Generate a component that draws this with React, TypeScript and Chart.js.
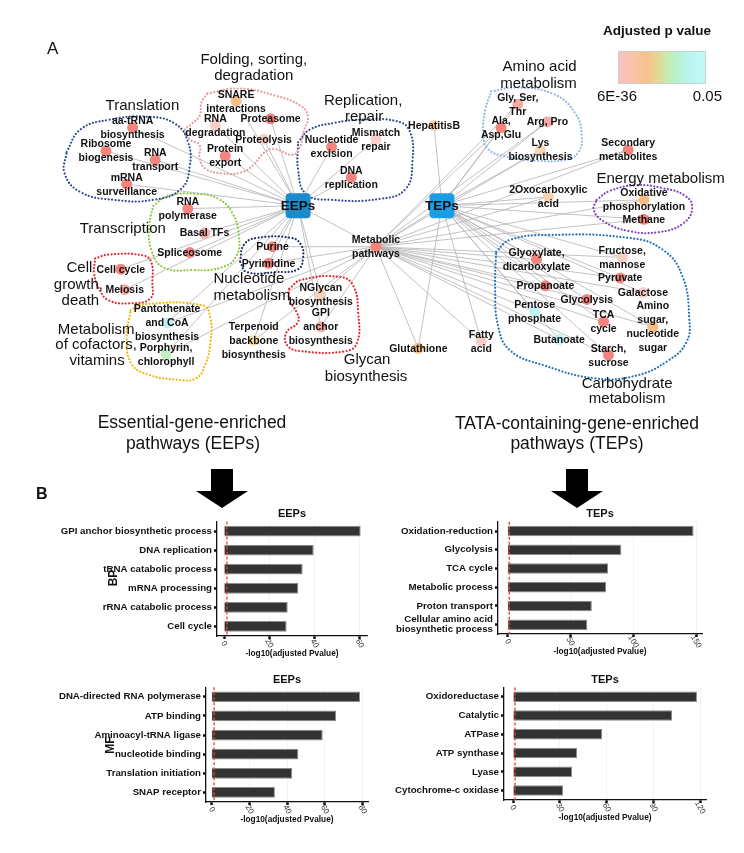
import React, { useEffect, useRef } from "react";
import { Chart, registerables } from "chart.js";

Chart.register(...registerables);

const FONT = '"Liberation Sans", Arial, Helvetica, sans-serif';

// ================= Panel A: network data =================
const nodeIds = [
  "EEPs", "TEPs", "metabolic",
  "aaTRNA", "ribosome", "rnaTransport", "mrnaSurv",
  "snare", "proteasome", "rnaDeg", "proteolysis", "proteinExport",
  "nucExcision", "mismatch", "dnaRep",
  "rnaPol", "basalTF", "spliceosome",
  "cellCycle", "meiosis",
  "purine", "pyrimidine",
  "pantothenate", "porphyrin", "terpenoid",
  "nglycan", "gpi",
  "hepatitisB", "glySerThr", "alaAspGlu", "argPro", "lys",
  "secondary", "oxo", "oxphos", "methane",
  "glyoxylate", "fructose", "pyruvate", "propanoate", "galactose", "glycolysis",
  "pentose", "aminoSugar", "tca", "butanoate", "starch",
  "fatty", "glutathione",
];
const nodeLabels = [
  "EEPs", "TEPs", "Metabolic\npathways",
  "aa-tRNA\nbiosynthesis", "Ribosome\nbiogenesis", "RNA\ntransport", "mRNA\nsurveillance",
  "SNARE\ninteractions", "Proteasome", "RNA\ndegradation", "Proteolysis", "Protein\nexport",
  "Nucleotide\nexcision", "Mismatch\nrepair", "DNA\nreplication",
  "RNA\npolymerase", "Basal TFs", "Spliceosome",
  "Cell cycle", "Meiosis",
  "Purine", "Pyrimidine",
  "Pantothenate\nand CoA\nbiosynthesis", "Porphyrin,\nchlorophyll", "Terpenoid\nbackbone\nbiosynthesis",
  "NGlycan\nbiosynthesis", "GPI\nanchor\nbiosynthesis",
  "HepatitisB", "Gly, Ser,\nThr", "Ala,\nAsp,Glu", "Arg, Pro", "Lys\nbiosynthesis",
  "Secondary\nmetabolites", "2Oxocarboxylic\nacid", "Oxidative\nphosphorylation", "Methane",
  "Glyoxylate,\ndicarboxylate", "Fructose,\nmannose", "Pyruvate", "Propanoate", "Galactose", "Glycolysis",
  "Pentose\nphosphate", "Amino\nsugar,\nnucleotide\nsugar", "TCA\ncycle", "Butanoate", "Starch,\nsucrose",
  "Fatty\nacid", "Glutathione",
];
// layout coordinates of the network nodes (x, y)
const nodeX = [
  297, 443, 376,
  129, 102, 152, 123,
  234, 269, 213, 262, 223,
  331, 376, 351,
  185, 202, 187,
  117, 121,
  271, 267,
  164, 163, 252,
  320, 320,
  435, 520, 503, 550, 543,
  632, 551, 648, 648,
  539, 626, 624, 548, 647, 590,
  537, 657, 607, 562, 612,
  483, 419,
];
const nodeY = [
  205, 205, 247,
  125, 149, 158, 183,
  98, 116, 123, 137, 154,
  145, 137, 176,
  208, 233, 253,
  270, 291,
  247, 264,
  325, 357, 343,
  296, 329,
  123, 101, 125, 119, 148,
  148, 196, 199, 219,
  260, 258, 279, 287, 294, 301,
  313, 329, 324, 342, 358,
  344, 351,
];
// significance class of each node (colour key)
const nodeClass = [
  "hub", "hub", "red",
  "red", "red", "red", "red",
  "orange", "red", "lpink", "lpink", "red",
  "red", "lpink", "red",
  "red", "pink", "red",
  "red", "pink",
  "red", "red",
  "cyan", "green", "yellow",
  "peach", "pink",
  "peach", "pink", "red", "pink", "peach",
  "red", "peach", "orange", "red",
  "red", "lpink", "red", "red", "lpink", "red",
  "cyan", "orange", "red", "cyan", "red",
  "lpink", "orange",
];

const eepLinks = [
  "metabolic", "aaTRNA", "ribosome", "rnaTransport", "mrnaSurv", "snare", "proteasome", "rnaDeg",
  "proteolysis", "proteinExport", "nucExcision", "mismatch", "dnaRep", "rnaPol", "basalTF",
  "spliceosome", "cellCycle", "meiosis", "purine", "pyrimidine", "pantothenate", "porphyrin",
  "terpenoid", "nglycan", "gpi",
];
const tepLinks = [
  "metabolic", "hepatitisB", "glySerThr", "alaAspGlu", "argPro", "lys", "secondary", "oxo",
  "oxphos", "methane", "glyoxylate", "fructose", "pyruvate", "propanoate", "galactose",
  "glycolysis", "pentose", "aminoSugar", "tca", "butanoate", "starch", "fatty", "glutathione",
];
const metabolicLinks = [
  "purine", "pyrimidine", "pantothenate", "porphyrin", "terpenoid", "nglycan", "gpi",
  "glySerThr", "alaAspGlu", "argPro", "lys", "secondary", "oxo", "oxphos", "methane",
  "glyoxylate", "fructose", "pyruvate", "propanoate", "galactose", "glycolysis", "pentose",
  "aminoSugar", "tca", "butanoate", "starch", "fatty", "glutathione",
];

// functional-group outlines
const outlineTranslation = [[62,150],[76,127],[105,117],[145,114],[172,121],[185,139],[187,165],[178,188],[150,199],[110,199],[76,191],[60,172]];
const outlineFolding = [[205,90],[237,85],[273,92],[300,103],[307,114],[303,128],[298,147],[291,153],[273,147],[262,151],[252,163],[239,171],[220,172],[203,167],[197,156],[197,143],[187,137],[182,128],[189,121],[197,113],[199,99]];
const outlineReplication = [[297,140],[309,127],[335,120],[360,117],[395,118],[410,128],[413,160],[406,188],[380,198],[330,199],[305,193],[297,168]];
const outlineTranscription = [[150,205],[165,195],[195,193],[216,198],[230,212],[237,237],[234,257],[220,268],[190,271],[160,268],[148,250],[146,225]];
const outlineCellGrowth = [[91,259],[105,255],[140,256],[148,263],[149,283],[147,300],[125,305],[105,302],[96,292],[90,275]];
const outlineNucleotide = [[238,262],[242,245],[255,238],[290,238],[300,245],[302,258],[297,270],[275,273],[245,273]];
const outlineCofactors = [[127,312],[140,306],[200,307],[208,320],[208,345],[203,367],[193,382],[173,383],[145,378],[128,367],[123,340]];
const outlineGlycan = [[288,290],[300,281],[340,278],[353,287],[358,315],[357,345],[345,354],[300,354],[286,348],[285,335],[297,324],[295,313],[288,302]];
const outlineAmino = [[493,88],[520,84],[557,91],[578,110],[585,133],[581,151],[568,158],[540,159],[510,155],[490,147],[485,130],[487,107]];
const outlineEnergy = [[600,199],[613,190],[640,184],[667,187],[690,195],[697,207],[688,223],[663,232],[633,231],[607,221],[597,209]];
const outlineCarbohydrate = [[498,252],[512,240],[550,235],[633,238],[667,250],[687,277],[694,320],[691,345],[672,364],[640,379],[600,382],[545,368],[512,353],[500,328],[497,290]];

const outlines = [
  outlineTranslation, outlineFolding, outlineReplication, outlineTranscription, outlineCellGrowth,
  outlineNucleotide, outlineCofactors, outlineGlycan, outlineAmino, outlineEnergy, outlineCarbohydrate,
];
const outlineColors = [
  "#2f4c8e", "#e39a9a", "#2f4c8e", "#8cc63e", "#e3242b",
  "#1f2c6c", "#f4b400", "#e3242b", "#8fb5e2", "#7b3fbf", "#1f70b6",
];

const groupTitleLines = [
  "Translation", "Folding, sorting,", "degradation", "Replication,", "repair",
  "Transcription", "Cell", "growth,", "death", "Nucleotide", "metabolism",
  "Metabolism", "of cofactors,", "vitamins", "Glycan", "biosynthesis",
  "Amino acid", "metabolism", "Energy metabolism", "Carbohydrate", "metabolism",
];
const groupTitleX = [139, 252, 252, 363, 364, 119, 75, 74, 76, 247, 250, 92, 92, 93, 367, 366, 542, 541, 665, 631, 631];
const groupTitleY = [103, 56, 72, 98, 114, 229, 269, 286, 302, 280, 297, 332, 348, 364, 363, 380, 63, 80, 178, 387, 403];

const classColors: Record<string, string> = {
  red: "#f3847e",
  pink: "#f6aaa4",
  lpink: "#f9cec9",
  orange: "#f7bd85",
  peach: "#f9d3b5",
  cyan: "#bdf3f5",
  green: "#c0f0c2",
  yellow: "#f5e2a5",
  hub: "#1c8fd0",
};
const hubFill: Record<string, string> = { EEPs: "#1b8bcb", TEPs: "#1b9de6" };

// ================= Panel B: bar chart data =================
const cutoff = 1.3; // -log10(0.05)

const bpEepLabels = ["GPI anchor biosynthetic process", "DNA replication", "tRNA catabolic process", "mRNA processing", "rRNA catabolic process", "Cell cycle"];
const bpEepValues = [60.5, 39.7, 34.8, 32.9, 28.2, 27.7];
const bpEepTicks = [0, 20, 40, 60];

const bpTepLabels = ["Oxidation-reduction", "Glycolysis", "TCA cycle", "Metabolic process", "Proton transport", ["Cellular amino acid", "biosynthetic process"]];
const bpTepValues = [148, 90.5, 80, 78.3, 67, 63.4];
const bpTepTicks = [0, 50, 100, 150];

const mfEepLabels = ["DNA-directed RNA polymerase", "ATP binding", "Aminoacyl-tRNA ligase", "nucleotide binding", "Translation initiation", "SNAP receptor"];
const mfEepValues = [78.6, 65.9, 58.8, 45.9, 42.7, 33.5];
const mfEepTicks = [0, 20, 40, 60, 80];

const mfTepLabels = ["Oxidoreductase", "Catalytic", "ATPase", "ATP synthase", "Lyase", "Cytochrome-c oxidase"];
const mfTepValues = [118, 102, 57.2, 41.1, 37.9, 32.1];
const mfTepTicks = [0, 30, 60, 90, 120];

// ================= network chart =================
const netPlugin = {
  id: "netDecor",
  afterDatasetsDraw(chart: any) {
    const { ctx, scales } = chart;
    const sx = scales.x, sy = scales.y;
    ctx.save();
    // hub squares
    nodeIds.forEach((id, i) => {
      if (nodeClass[i] !== "hub") return;
      const px = sx.getPixelForValue(nodeX[i]);
      const py = sy.getPixelForValue(nodeY[i]);
      const s = 25;
      ctx.fillStyle = hubFill[id];
      ctx.beginPath();
      if ((ctx as any).roundRect) (ctx as any).roundRect(px - s / 2, py - s / 2, s, s, 4);
      else ctx.rect(px - s / 2, py - s / 2, s, s);
      ctx.fill();
    });
    // node labels
    ctx.fillStyle = "#111";
    ctx.textAlign = "center";
    ctx.textBaseline = "middle";
    nodeIds.forEach((id, i) => {
      const isHub = nodeClass[i] === "hub";
      ctx.font = isHub ? `bold 13.5px ${FONT}` : `bold 10.5px ${FONT}`;
      const lines = nodeLabels[i].split("\n");
      const lh = 14;
      const px = sx.getPixelForValue(nodeX[i]);
      const py = sy.getPixelForValue(nodeY[i]);
      lines.forEach((ln, j) => {
        ctx.fillText(ln, px, py + (j - (lines.length - 1) / 2) * lh + 0.5);
      });
    });
    // group titles
    ctx.font = `15px ${FONT}`;
    groupTitleLines.forEach((t, k) => {
      ctx.fillText(t, sx.getPixelForValue(groupTitleX[k]), sy.getPixelForValue(groupTitleY[k]));
    });
    ctx.restore();
  },
};

function NetworkChart() {
  const ref = useRef<HTMLCanvasElement>(null);
  useEffect(() => {
    const idx = (id: string) => nodeIds.indexOf(id);
    const pt = (id: string) => ({ x: nodeX[idx(id)], y: nodeY[idx(id)] });
    const edges: [string, string][] = [];
    eepLinks.forEach((n) => edges.push(["EEPs", n]));
    tepLinks.forEach((n) => edges.push(["TEPs", n]));
    metabolicLinks.forEach((n) => edges.push(["metabolic", n]));

    const edgeSets = edges.map(([a, b]) => ({
      data: [pt(a), pt(b)],
      showLine: true,
      borderColor: "#b3b3b3",
      borderWidth: 0.8,
      pointRadius: 0,
      order: 3,
    }));
    const outlineSets = outlines.map((pts, k) => ({
      data: [...pts, pts[0]].map(([x, y]) => ({ x, y })),
      showLine: true,
      borderColor: outlineColors[k],
      borderWidth: 2.2,
      borderDash: [0.01, 3.4],
      borderCapStyle: "round",
      tension: 0.45,
      pointRadius: 0,
      order: 2,
    }));
    const dotIdx = nodeIds.map((_, i) => i).filter((i) => nodeClass[i] !== "hub");
    const dotSet = {
      data: dotIdx.map((i) => ({ x: nodeX[i], y: nodeY[i] })),
      showLine: false,
      pointRadius: 5.5,
      pointBorderWidth: 0,
      pointBackgroundColor: dotIdx.map((i) => classColors[nodeClass[i]]),
      pointBorderColor: "rgba(0,0,0,0)",
      order: 1,
    };
    const chart = new Chart(ref.current as HTMLCanvasElement, {
      type: "scatter",
      data: { datasets: [...edgeSets, ...outlineSets, dotSet] as any },
      options: {
        animation: false,
        responsive: false,
        maintainAspectRatio: false,
        events: [],
        layout: { padding: 0 },
        plugins: { legend: { display: false }, tooltip: { enabled: false }, title: { display: false } },
        scales: {
          x: { type: "linear", min: 0, max: 744, display: false },
          y: { type: "linear", min: 0, max: 470, reverse: true, display: false },
        },
      } as any,
      plugins: [netPlugin],
    });
    return () => chart.destroy();
  }, []);
  return (
    <canvas
      ref={ref}
      width={744}
      height={470}
      style={{ position: "absolute", left: 0, top: 0, width: 744, height: 470 }}
    />
  );
}

// ================= bar charts =================
const barExtras = {
  id: "barExtras",
  afterDatasetsDraw(chart: any, _args: any, opts: any) {
    const { ctx, chartArea, scales } = chart;
    const px = scales.x.getPixelForValue(opts.cutoff);
    ctx.save();
    ctx.strokeStyle = "#e5413a";
    ctx.lineWidth = 1.3;
    ctx.setLineDash([3, 2]);
    ctx.beginPath();
    ctx.moveTo(px, chartArea.top);
    ctx.lineTo(px, chartArea.bottom);
    ctx.stroke();
    ctx.restore();
  },
  afterDraw(chart: any, _args: any, opts: any) {
    const { ctx, chartArea, scales } = chart;
    ctx.save();
    ctx.fillStyle = "#333";
    ctx.font = `8px ${FONT}`;
    ctx.textAlign = "center";
    ctx.textBaseline = "middle";
    (opts.ticks as number[]).forEach((v) => {
      const p = scales.x.getPixelForValue(v);
      ctx.save();
      ctx.translate(p, chartArea.bottom + 7.5);
      ctx.rotate((60 * Math.PI) / 180);
      ctx.fillText(String(v), 0, 0);
      ctx.restore();
    });
    ctx.fillStyle = "#111";
    ctx.font = `bold 8.3px ${FONT}`;
    ctx.fillText("-log10(adjusted Pvalue)", (chartArea.left + chartArea.right) / 2, chartArea.bottom + 17.5);
    ctx.restore();
  },
};

type BarProps = {
  labels: (string | string[])[];
  values: number[];
  ticks: number[];
  min: number;
  max: number;
  title: string;
  left: number;
  top: number;
  width: number;
  height: number;
  yAxisWidth: number;
  xAxisHeight: number;
  padRight: number;
  titlePadTop: number;
  titlePadBottom: number;
};

function BarPanel(p: BarProps) {
  const ref = useRef<HTMLCanvasElement>(null);
  useEffect(() => {
    const chart = new Chart(ref.current as HTMLCanvasElement, {
      type: "bar",
      data: {
        labels: p.labels as any,
        datasets: [
          {
            data: p.values,
            backgroundColor: "#333333",
            borderColor: "#8c8c8c",
            borderWidth: 1,
            barPercentage: 0.56,
            categoryPercentage: 1,
          },
        ],
      },
      options: {
        indexAxis: "y",
        animation: false,
        responsive: false,
        maintainAspectRatio: false,
        events: [],
        layout: { padding: { left: 0, right: p.padRight, top: 0, bottom: 0 } },
        plugins: {
          legend: { display: false },
          tooltip: { enabled: false },
          title: {
            display: true,
            text: p.title,
            fullSize: false,
            align: "center",
            color: "#111",
            font: { family: FONT, size: 11, weight: "bold", lineHeight: 1.2 },
            padding: { top: p.titlePadTop, bottom: p.titlePadBottom },
          },
          barExtras: { cutoff, ticks: p.ticks },
        },
        scales: {
          x: {
            type: "linear",
            min: p.min,
            max: p.max,
            afterBuildTicks: (s: any) => {
              s.ticks = p.ticks.map((v) => ({ value: v }));
            },
            afterFit: (s: any) => {
              s.height = p.xAxisHeight;
            },
            ticks: { display: false },
            grid: { color: "#f1f1f1", lineWidth: 0.8, tickLength: 3, tickWidth: 2.5, tickColor: "#111" },
            border: { color: "#111", width: 1.3 },
          },
          y: {
            afterFit: (s: any) => {
              s.width = p.yAxisWidth;
            },
            ticks: {
              autoSkip: false,
              color: "#111",
              padding: 2,
              font: { family: FONT, size: 9.7, weight: "bold", lineHeight: 1.05 },
            },
            grid: { drawOnChartArea: false, offset: false, tickLength: 3, tickWidth: 2.5, tickColor: "#111" },
            border: { color: "#111", width: 1.3 },
          },
        },
      } as any,
      plugins: [barExtras],
    });
    return () => chart.destroy();
  }, []);
  return (
    <canvas
      ref={ref}
      width={p.width}
      height={p.height}
      style={{ position: "absolute", left: p.left, top: p.top, width: p.width, height: p.height }}
    />
  );
}

// ================= page =================
function Txt(props: { x: number; y: number; size: number; bold?: boolean; rotate?: number; align?: "center" | "left" | "right"; children: React.ReactNode }) {
  const align = props.align || "center";
  const tx = align === "center" ? "-50%" : align === "right" ? "-100%" : "0";
  return (
    <div
      style={{
        position: "absolute",
        left: props.x,
        top: props.y,
        transform: `translate(${tx}, -50%)${props.rotate ? ` rotate(${props.rotate}deg)` : ""}`,
        fontSize: props.size,
        fontWeight: props.bold ? "bold" : "normal",
        fontFamily: FONT,
        lineHeight: 1.2,
        whiteSpace: "nowrap",
        color: "#111",
        zIndex: 5,
      }}
    >
      {props.children}
    </div>
  );
}

function arrowPoints(cx: number) {
  const pts = [
    [cx - 11, 469], [cx + 11, 469], [cx + 11, 491], [cx + 26, 491],
    [cx, 508], [cx - 26, 491], [cx - 11, 491],
  ];
  return pts.map((q) => q.join(",")).join(" ");
}

export default function App() {
  return (
    <div
      style={{
        position: "absolute",
        left: 0,
        top: 0,
        width: 744,
        height: 853,
        background: "#ffffff",
        fontFamily: FONT,
        overflow: "hidden",
      }}
    >
      <NetworkChart />

      <Txt x={47} y={49} size={17} align="left">A</Txt>

      {/* colour legend */}
      <Txt x={657} y={31} size={13.5} bold>Adjusted p value</Txt>
      <div
        style={{
          position: "absolute",
          left: 618,
          top: 51,
          width: 88,
          height: 33,
          boxSizing: "border-box",
          border: "1px solid #c8d0d0",
          background:
            "linear-gradient(to right, #f9c3bd 0%, #f9c3a8 18%, #f8c08c 32%, #e6d692 44%, #c6ecb0 56%, #b6f2d6 70%, #baf6f4 84%, #c2f8f8 100%)",
        }}
      />
      <Txt x={597} y={96} size={15} align="left">6E-36</Txt>
      <Txt x={722} y={96} size={15} align="right">0.05</Txt>

      {/* headings + arrows */}
      <Txt x={192} y={422} size={17.5}>Essential-gene-enriched</Txt>
      <Txt x={193} y={443} size={17.5}>pathways (EEPs)</Txt>
      <Txt x={577} y={423} size={17.5}>TATA-containing-gene-enriched</Txt>
      <Txt x={577} y={443} size={17.5}>pathways (TEPs)</Txt>
      <svg width={744} height={853} style={{ position: "absolute", left: 0, top: 0, zIndex: 2 }}>
        <polygon points={arrowPoints(222)} fill="#000" />
        <polygon points={arrowPoints(577)} fill="#000" />
      </svg>

      <Txt x={36} y={494} size={16} bold align="left">B</Txt>

      <BarPanel
        labels={bpEepLabels}
        values={bpEepValues}
        ticks={bpEepTicks}
        min={-3.1}
        max={63.3}
        title="EEPs"
        left={50}
        top={505}
        width={322}
        height={165}
        yAxisWidth={167}
        xAxisHeight={34}
        padRight={5}
        titlePadTop={2.4}
        titlePadBottom={0.9}
      />
      <BarPanel
        labels={bpTepLabels}
        values={bpTepValues}
        ticks={bpTepTicks}
        min={-7.7}
        max={154.7}
        title="TEPs"
        left={385}
        top={505}
        width={325}
        height={165}
        yAxisWidth={113}
        xAxisHeight={36}
        padRight={8}
        titlePadTop={2.4}
        titlePadBottom={1.1}
      />
      <BarPanel
        labels={mfEepLabels}
        values={mfEepValues}
        ticks={mfEepTicks}
        min={-3.0}
        max={82.8}
        title="EEPs"
        left={50}
        top={670}
        width={322}
        height={165}
        yAxisWidth={156}
        xAxisHeight={33}
        padRight={4}
        titlePadTop={3.4}
        titlePadBottom={0.6}
      />
      <BarPanel
        labels={mfTepLabels}
        values={mfTepValues}
        ticks={mfTepTicks}
        min={-5.8}
        max={123.8}
        title="TEPs"
        left={385}
        top={670}
        width={325}
        height={165}
        yAxisWidth={119}
        xAxisHeight={35}
        padRight={4}
        titlePadTop={3.4}
        titlePadBottom={0.8}
      />

      <Txt x={113} y={578} size={12} bold rotate={-90}>BP</Txt>
      <Txt x={110} y={745} size={12} bold rotate={-90}>MF</Txt>
    </div>
  );
}
